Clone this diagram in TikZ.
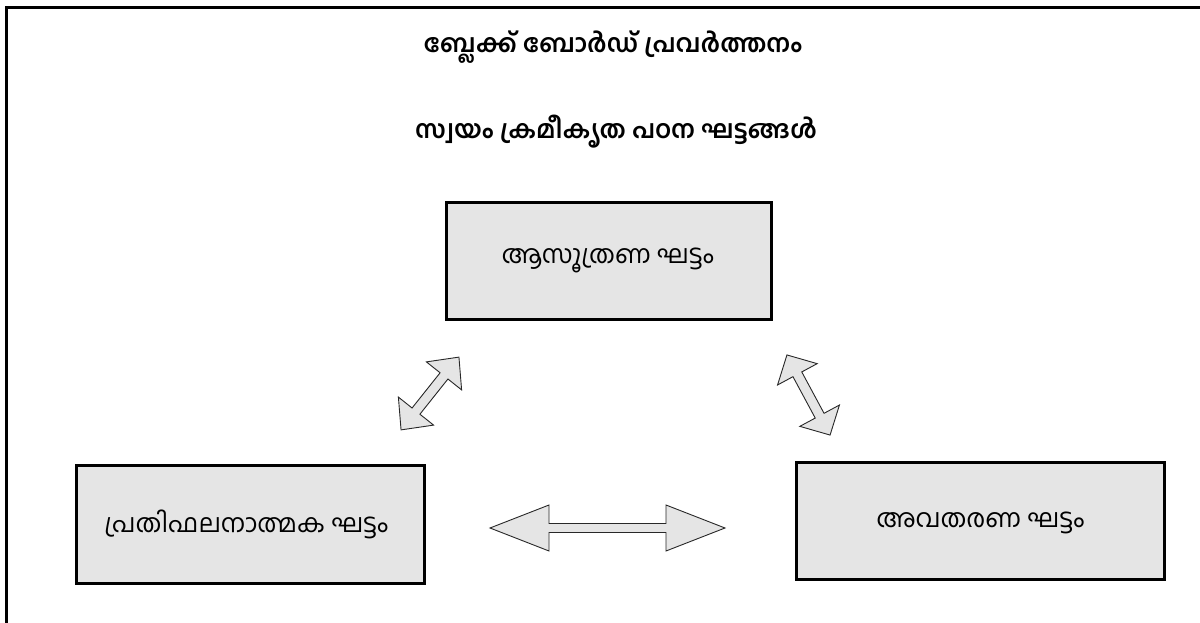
\documentclass[tikz,border=0pt]{standalone}
\usepackage{fontspec}
\newfontfamily\ml[Script=Malayalam]{Hind Kochi}
\begin{document}
\begin{tikzpicture}[x=1pt,y=-1pt,
  phasebox/.style={draw=black,line width=2.5pt,fill=boxgray,inner sep=0pt,anchor=north west},
  heading/.style={font=\ml\bfseries\fontsize{25}{30}\selectfont},
  phasetext/.style={font=\ml\fontsize{25.5}{30}\selectfont},
  arrowshape/.style={draw=arrowline,line width=0.9pt,fill=boxgray,line join=miter},
  pics/dblarrow/.style args={#1/#2/#3/#4}{code={
    \draw[arrowshape] (-#1/2,0) -- (-#1/2+#4,#3) -- (-#1/2+#4,#2) -- (#1/2-#4,#2)
      -- (#1/2-#4,#3) -- (#1/2,0) -- (#1/2-#4,-#3) -- (#1/2-#4,-#2)
      -- (-#1/2+#4,-#2) -- (-#1/2+#4,-#3) -- cycle;
  }}]
\definecolor{boxgray}{RGB}{229,229,229}
\definecolor{arrowline}{RGB}{40,40,40}
\useasboundingbox (0,0) rectangle (1200,623);
\fill[white] (0,0) rectangle (1200,623);

% outer frame (top and left edges)
\draw[line width=3pt] (6.5,623) -- (6.5,7.5) -- (1200,7.5);

% headings
\node[heading] (title) at (613,47) {ബ്ലേക്ക് ബോർഡ് പ്രവർത്തനം};
\node[heading] (subtitle) at (616,132) {സ്വയം ക്രമീകൃത പഠന ഘട്ടങ്ങൾ};

% phase boxes
\node[phasebox,minimum width=325pt,minimum height=117pt] (plan) at (445,201) {};
\node[phasebox,minimum width=348pt,minimum height=118pt] (reflect) at (75,464) {};
\node[phasebox,minimum width=368pt,minimum height=117pt] (present) at (795,461) {};

\node[phasetext] (plantext) at ([xshift=-1pt]plan.center) {ആസൂത്രണ ഘട്ടം};
\node[phasetext] (reflecttext) at ([xshift=-4pt]reflect.center) {പ്രതിഫലനാത്മക ഘട്ടം};
\node[phasetext] (presenttext) at ([yshift=-2pt]present.center) {അവതരണ ഘട്ടം};

% two-way block arrows between the phases
\pic[rotate=51.5] at (430,393.5) {dblarrow={93/5/22.5/24}};
\pic[rotate=-61.7] at (808.5,395) {dblarrow={91/5/22.5/22}};
\pic at (607.5,528) {dblarrow={235/4.5/23/59}};
\end{tikzpicture}
\end{document}
